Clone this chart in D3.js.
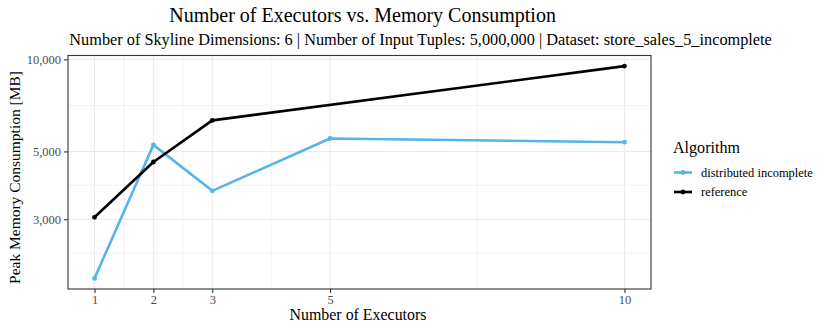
<!DOCTYPE html>
<html>
<head>
<meta charset="utf-8">
<script src="https://cdn.jsdelivr.net/npm/d3@7"></script>
<style>
  body { margin: 0; background: #fff; }
  svg text { font-family: "Liberation Serif", "DejaVu Serif", serif; }
</style>
</head>
<body>
<svg id="chart" width="830" height="332"></svg>
<script>
// data
var xBreaks = [1, 2, 3, 5, 10]
var yBreaks = [3000, 5000, 10000]
var distExecutors = [1, 2, 3, 5, 10]
var distMemory = [1922, 5253, 3716, 5511, 5360]
var refExecutors = [1, 2, 3, 10]
var refMemory = [3045, 4618, 6316, 9506]
var seriesNames = ["distributed incomplete", "reference"]
var seriesColors = ["#56B4E9", "#000000"]

var svg = d3.select("#chart"),
  margin = {top: 55.5, right: 179, bottom: 43, left: 68},
  width = +svg.attr("width") - margin.left - margin.right,
  height = +svg.attr("height") - margin.top - margin.bottom;

// scale a text so it takes the width seen in the picture
function fit(sel, w){
  var fs = +sel.attr("font-size")
  var len = sel.node().getComputedTextLength()
  sel.attr("font-size", fs * w / len)
  return sel
}

// ggplot style 5% expansion
var xMin = 1, xMax = 10, xPad = (xMax - xMin) * 0.05
var x = d3.scaleLinear().domain([xMin - xPad, xMax + xPad]).range([0, width])

var allY = distMemory.concat(refMemory)
var lMin = Math.log10(d3.min(allY)), lMax = Math.log10(d3.max(allY)), lPad = (lMax - lMin) * 0.05
var y = d3.scaleLog().domain([Math.pow(10, lMin - lPad), Math.pow(10, lMax + lPad)]).range([height, 0])

var g = svg.append("g").attr("transform", "translate(" + margin.left + "," + margin.top + ")")

// minor breaks: midpoints between majors (in transformed space)
var xMinor = []
for (var i = 0; i < xBreaks.length - 1; i++) xMinor.push((xBreaks[i] + xBreaks[i + 1]) / 2)
var ly = yBreaks.map(function(d){ return Math.log10(d) })
var lyExt = [ly[0] - (ly[1] - ly[0])].concat(ly)
var yMinor = []
for (var i = 0; i < lyExt.length - 1; i++) yMinor.push(Math.pow(10, (lyExt[i] + lyExt[i + 1]) / 2))

g.selectAll(".xminor").data(xMinor).enter().append("line")
  .attr("x1", d => x(d)).attr("x2", d => x(d)).attr("y1", 0).attr("y2", height)
  .attr("stroke", "#ebebeb").attr("stroke-width", 0.6)
g.selectAll(".yminor").data(yMinor.filter(d => d > y.domain()[0] && d < y.domain()[1])).enter().append("line")
  .attr("x1", 0).attr("x2", width).attr("y1", d => y(d)).attr("y2", d => y(d))
  .attr("stroke", "#ebebeb").attr("stroke-width", 0.6)
g.selectAll(".xmajor").data(xBreaks).enter().append("line")
  .attr("x1", d => x(d)).attr("x2", d => x(d)).attr("y1", 0).attr("y2", height)
  .attr("stroke", "#ebebeb").attr("stroke-width", 1.1)
g.selectAll(".ymajor").data(yBreaks).enter().append("line")
  .attr("x1", 0).attr("x2", width).attr("y1", d => y(d)).attr("y2", d => y(d))
  .attr("stroke", "#ebebeb").attr("stroke-width", 1.1)

// series
var series = [
  {name: seriesNames[0], color: seriesColors[0], pts: distExecutors.map((e, i) => [e, distMemory[i]])},
  {name: seriesNames[1], color: seriesColors[1], pts: refExecutors.map((e, i) => [e, refMemory[i]])}
]
var line = d3.line().x(d => x(d[0])).y(d => y(d[1]))
series.forEach(function(s){
  g.append("path").datum(s.pts)
    .attr("d", line).attr("fill", "none")
    .attr("stroke", s.color).attr("stroke-width", 2.6)
    .attr("stroke-linejoin", "round")
  g.selectAll(null).data(s.pts).enter().append("circle")
    .attr("cx", d => x(d[0])).attr("cy", d => y(d[1])).attr("r", 2.4)
    .attr("fill", s.color)
})

// panel border
g.append("rect").attr("width", width).attr("height", height)
  .attr("fill", "none").attr("stroke", "#333333").attr("stroke-width", 1.1)

// axes
var xAxis = g.append("g").attr("transform", "translate(0," + height + ")")
  .call(d3.axisBottom(x).tickValues(xBreaks).tickSize(4).tickPadding(2).tickFormat(d3.format("d")))
var yAxis = g.append("g")
  .call(d3.axisLeft(y).tickValues(yBreaks).tickSize(4).tickPadding(3).tickFormat(d3.format(",")))
;[xAxis, yAxis].forEach(function(a){
  a.attr("font-family", null).attr("font-size", null)
  a.select(".domain").remove()
  a.selectAll(".tick line").attr("stroke", "#333333").attr("stroke-width", 1.1)
  a.selectAll(".tick text").attr("fill", "#4d4d4d").attr("font-size", 12)
})
var tickSize = 12 * 34.3 / yAxis.select(".tick:last-of-type text").node().getComputedTextLength()
xAxis.selectAll(".tick text").attr("font-size", tickSize)
yAxis.selectAll(".tick text").attr("font-size", tickSize)

// titles
fit(svg.append("text").attr("x", 362.6).attr("y", 22).attr("text-anchor", "middle")
  .attr("font-size", 19).attr("fill", "#000").text("Number of Executors vs. Memory Consumption"), 387)
fit(svg.append("text").attr("x", 420.6).attr("y", 44.5).attr("text-anchor", "middle")
  .attr("font-size", 15).attr("fill", "#000")
  .text("Number of Skyline Dimensions: 6 | Number of Input Tuples: 5,000,000 | Dataset: store_sales_5_incomplete"), 703)
fit(svg.append("text").attr("x", 358).attr("y", 320).attr("text-anchor", "middle")
  .attr("font-size", 15).attr("fill", "#000").text("Number of Executors"), 137)
fit(svg.append("text").attr("transform", "translate(20,177.5) rotate(-90)")
  .attr("text-anchor", "middle").attr("font-size", 15).attr("fill", "#000")
  .text("Peak Memory Consumption [MB]"), 213)

// legend
var legend = svg.append("g").attr("transform", "translate(673,0)")
fit(legend.append("text").attr("x", 0).attr("y", 153).attr("font-size", 15).text("Algorithm"), 67)
series.forEach(function(s, i){
  var ky = 172.5 + i * 19.5
  legend.append("line").attr("x1", 1).attr("x2", 19).attr("y1", ky).attr("y2", ky)
    .attr("stroke", s.color).attr("stroke-width", 2.6)
  legend.append("circle").attr("cx", 10).attr("cy", ky).attr("r", 2.4).attr("fill", s.color)
  legend.append("text").attr("x", 28).attr("y", ky + 4).attr("font-size", 12).attr("class", "ltxt").text(s.name)
})
var lt = legend.select(".ltxt")
var legSize = 12 * 112 / lt.node().getComputedTextLength()
legend.selectAll(".ltxt").attr("font-size", legSize)
</script>
</body>
</html>
